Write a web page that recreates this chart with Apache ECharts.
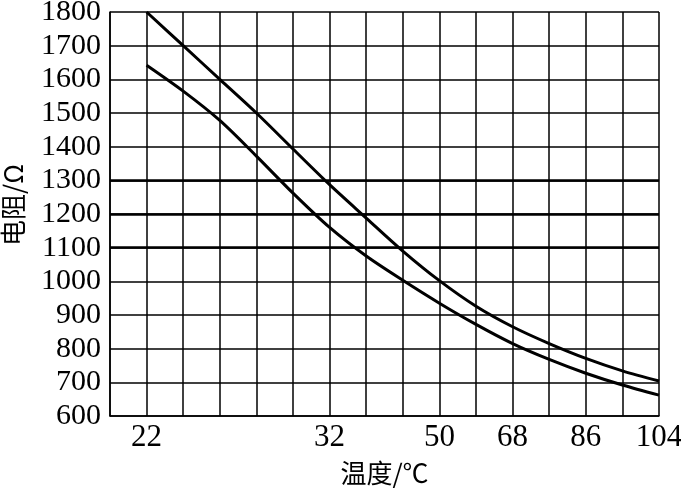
<!DOCTYPE html>
<html><head><meta charset="utf-8">
<script src="https://cdn.jsdelivr.net/npm/echarts@6/dist/echarts.min.js"></script>
<style>html,body{margin:0;padding:0;background:#fff;}#c{width:681px;height:489px;}</style>
</head><body><div id="c"></div>
<script>
// grid columns (16 vertical lines); only some carry temperature labels
var xLabels = ['', '22', '', '', '', '', '32', '', '', '50', '', '68', '', '86', '', '104'];
var upper = [null, 1800, 1700, 1600, 1500, 1393, 1287, 1188, 1090, 1002, 926, 865, 815, 771, 734, 704];
var lower = [null, 1642, 1565, 1478, 1372, 1262, 1160, 1075, 1003, 935, 872, 815, 768, 727, 692, 662];
var yMin = 600, yMax = 1800, yStep = 100;
var boldY = [1100, 1200, 1300];

var serif = '"Liberation Serif","Times New Roman",serif';
var chart = echarts.init(document.getElementById('c'), null, {renderer: 'canvas'});
var cats = xLabels.map(function (_, i) { return String(i); });
chart.setOption({
  animation: false,
  backgroundColor: '#fff',
  grid: {left: 110, right: 22, top: 12, bottom: 73, containLabel: false, outerBoundsMode: 'none'},
  xAxis: {
    type: 'category', data: cats, boundaryGap: false,
    name: '温度/℃', nameLocation: 'middle', nameGap: 44,
    nameTextStyle: {fontFamily: '"Noto Sans CJK SC",' + serif, fontSize: 26, color: '#000'},
    axisLine: {lineStyle: {color: '#000', width: 1.5}},
    axisTick: {show: false},
    axisLabel: {interval: 0, margin: 6, color: '#000', fontSize: 31, fontFamily: serif,
      formatter: function (v) { return xLabels[+v]; }},
    splitLine: {show: true, interval: 0, lineStyle: {color: '#000', width: 1.5}}
  },
  yAxis: {
    type: 'value', min: yMin, max: yMax, interval: yStep,
    name: '电阻/Ω', nameLocation: 'middle', nameGap: 84, nameRotate: 90,
    nameTextStyle: {fontFamily: '"Noto Sans CJK SC",' + serif, fontSize: 26, color: '#000', padding: [0, 0, 0, 18]},
    axisLine: {show: true, lineStyle: {color: '#000', width: 1.5}},
    axisTick: {show: false},
    axisLabel: {margin: 9, color: '#000', fontSize: 30, fontFamily: serif,
      formatter: function (v) { return String(v); }},
    splitLine: {show: true, lineStyle: {color: '#000', width: 1.5}}
  },
  series: [
    {type: 'line', data: upper, smooth: 0.3, symbol: 'none',
      lineStyle: {color: '#000', width: 3}, z: 5,
      markLine: {silent: true, symbol: 'none', label: {show: false},
        lineStyle: {color: '#000', width: 2.6, type: 'solid'},
        data: boldY.map(function (v) { return {yAxis: v}; })}},
    {type: 'line', data: lower, smooth: 0.3, symbol: 'none',
      lineStyle: {color: '#000', width: 3}, z: 5}
  ]
});
</script></body></html>
